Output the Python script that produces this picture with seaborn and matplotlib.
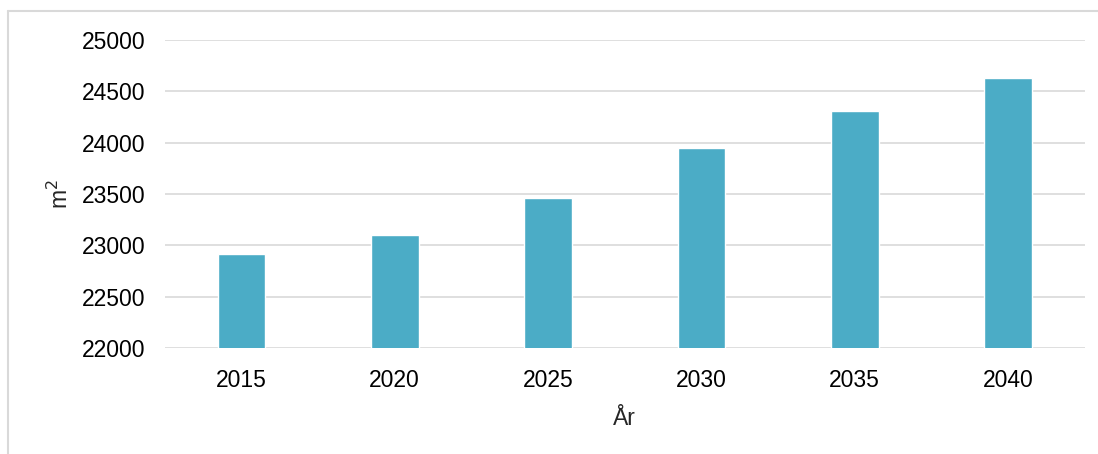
import pandas as pd
import matplotlib
matplotlib.use('Agg')
import matplotlib.pyplot as plt
import seaborn as sns
from matplotlib.lines import Line2D

# Données
years = ['2015', '2020', '2025', '2030', '2035', '2040']
areas = [22920, 23100, 23465, 23950, 24310, 24625]

df = pd.DataFrame({'year': years, 'area': areas})

sns.set_style('white')
plt.rcParams['font.family'] = ['Liberation Sans', 'DejaVu Sans']

fig = plt.figure(figsize=(10.98, 4.54), dpi=100)
ax = fig.add_axes([0.150, 0.2335, 0.838, 0.6785])

sns.barplot(data=df, x='year', y='area', color='#4BACC6', width=0.31,
            saturation=1, ax=ax)

ax.set_ylim(22000, 25000)
ax.set_yticks(range(22000, 25001, 500))
ax.yaxis.grid(True, color='#D9D9D9', linewidth=1.2)
ax.set_axisbelow(True)
for s in ax.spines.values():
    s.set_visible(False)
ax.tick_params(axis='both', length=0, labelsize=16.5, colors='black')
ax.tick_params(axis='y', pad=14)
ax.tick_params(axis='x', pad=15)

ax.set_xlabel('År', fontsize=16.5, labelpad=11)
ax.set_ylabel('m$^2$', fontsize=16.5, labelpad=6)

# cadre gris (haut et gauche seulement visibles)
W, H = 1098, 454
fig.lines.append(Line2D([8/W, 1], [1 - 11/H, 1 - 11/H], transform=fig.transFigure,
                        color='#D9D9D9', linewidth=1.5))
fig.lines.append(Line2D([8/W, 8/W], [0, 1 - 11/H], transform=fig.transFigure,
                        color='#D9D9D9', linewidth=1.5))

fig.savefig('out.png', dpi=100)
plt.close(fig)
